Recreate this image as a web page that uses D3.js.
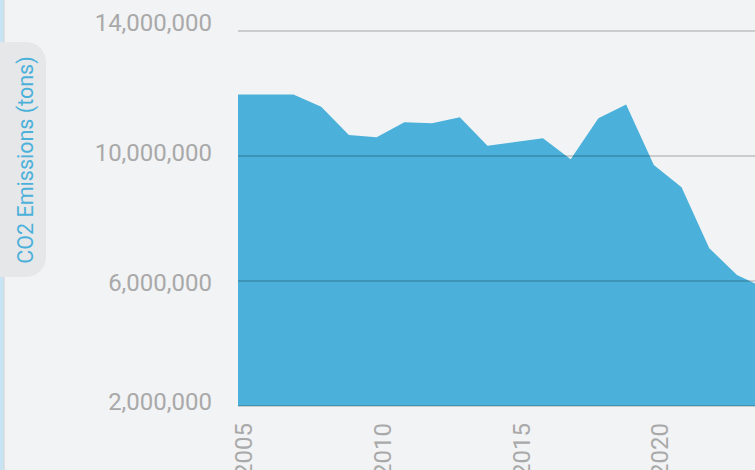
<!DOCTYPE html>
<html>
<head>
<meta charset="utf-8">
<script src="https://cdn.jsdelivr.net/npm/d3@7"></script>
<style>
  html, body { margin: 0; padding: 0; background: #f2f3f5; overflow: hidden; }
  svg { display: block; font-family: Roboto, "Noto Sans", sans-serif; }
</style>
</head>
<body>
<svg id="chart" width="755" height="470"></svg>
<script>
// CO2 emissions per year (tons)
const years = [2005, 2006, 2007, 2008, 2009, 2010, 2011, 2012, 2013, 2014,
               2015, 2016, 2017, 2018, 2019, 2020, 2021, 2022, 2023, 2024];
const emissions = [11970000, 11970000, 11970000, 11580000, 10670000, 10600000, 11080000, 11050000, 11240000, 10330000,
                   10450000, 10570000, 9900000, 11210000, 11650000, 9710000, 9000000, 7050000, 6190000, 5780000];
const yTicks = [2000000, 6000000, 10000000, 14000000];
const xTicks = [2005, 2010, 2015, 2020];
const yTitle = "CO2 Emissions (tons)";

const svg = d3.select("#chart");
const width = 755, height = 470;

const x = d3.scaleLinear().domain([2005, 2023]).range([238, 737]);
const y = d3.scaleLinear().domain([2000000, 14000000]).range([406, 31]);

const data = years.map((yr, i) => ({ year: yr, value: emissions[i] }));

// left edge strip
svg.append("rect").attr("x", 0).attr("y", 0).attr("width", 3.5).attr("height", height).attr("fill", "#c6e4f4");
svg.append("line").attr("x1", 4).attr("x2", 4).attr("y1", 0).attr("y2", height)
  .attr("stroke", "#c9cdd2").attr("stroke-width", 1);

// axis title tab
svg.append("rect")
  .attr("x", -20).attr("y", 42).attr("width", 66).attr("height", 235)
  .attr("rx", 20).attr("fill", "#e6e7e9");
svg.append("text")
  .attr("transform", "translate(32.5,160) rotate(-90)")
  .attr("text-anchor", "middle")
  .attr("font-size", 21.5)
  .attr("fill", "#4bb1da")
  .text(yTitle);

// area
const area = d3.area()
  .x(d => x(d.year))
  .y0(y(2000000))
  .y1(d => y(d.value));

svg.append("path")
  .datum(data)
  .attr("d", area)
  .attr("fill", "#4bb1da");

// grid lines on top of the area
svg.append("g")
  .selectAll("line")
  .data(yTicks)
  .join("line")
  .attr("x1", x(2005))
  .attr("x2", width)
  .attr("y1", d => y(d))
  .attr("y2", d => y(d))
  .attr("stroke", "rgba(0,0,0,0.16)")
  .attr("stroke-width", 2);

// y tick labels (the labels sit a bit off their grid lines, bottom one pulled up)
const fmt = d3.format(",");
const labelY = d => d === 2000000 ? y(d) - 4 : y(d) + 2 - (d - 6000000) / 4000000 * 5.25;
svg.append("g")
  .selectAll("text")
  .data(yTicks)
  .join("text")
  .attr("x", 212)
  .attr("y", labelY)
  .attr("dy", "0.35em")
  .attr("text-anchor", "end")
  .attr("font-size", 24)
  .attr("fill", "#a9a9a9")
  .text(d => fmt(d));

// x tick labels, rotated
svg.append("g")
  .selectAll("text")
  .data(xTicks)
  .join("text")
  .attr("transform", d => "translate(" + (x(d) + 6) + ",423) rotate(-90)")
  .attr("text-anchor", "end")
  .attr("dy", "0.35em")
  .attr("font-size", 24)
  .attr("fill", "#a9a9a9")
  .text(d => d);
</script>
</body>
</html>
